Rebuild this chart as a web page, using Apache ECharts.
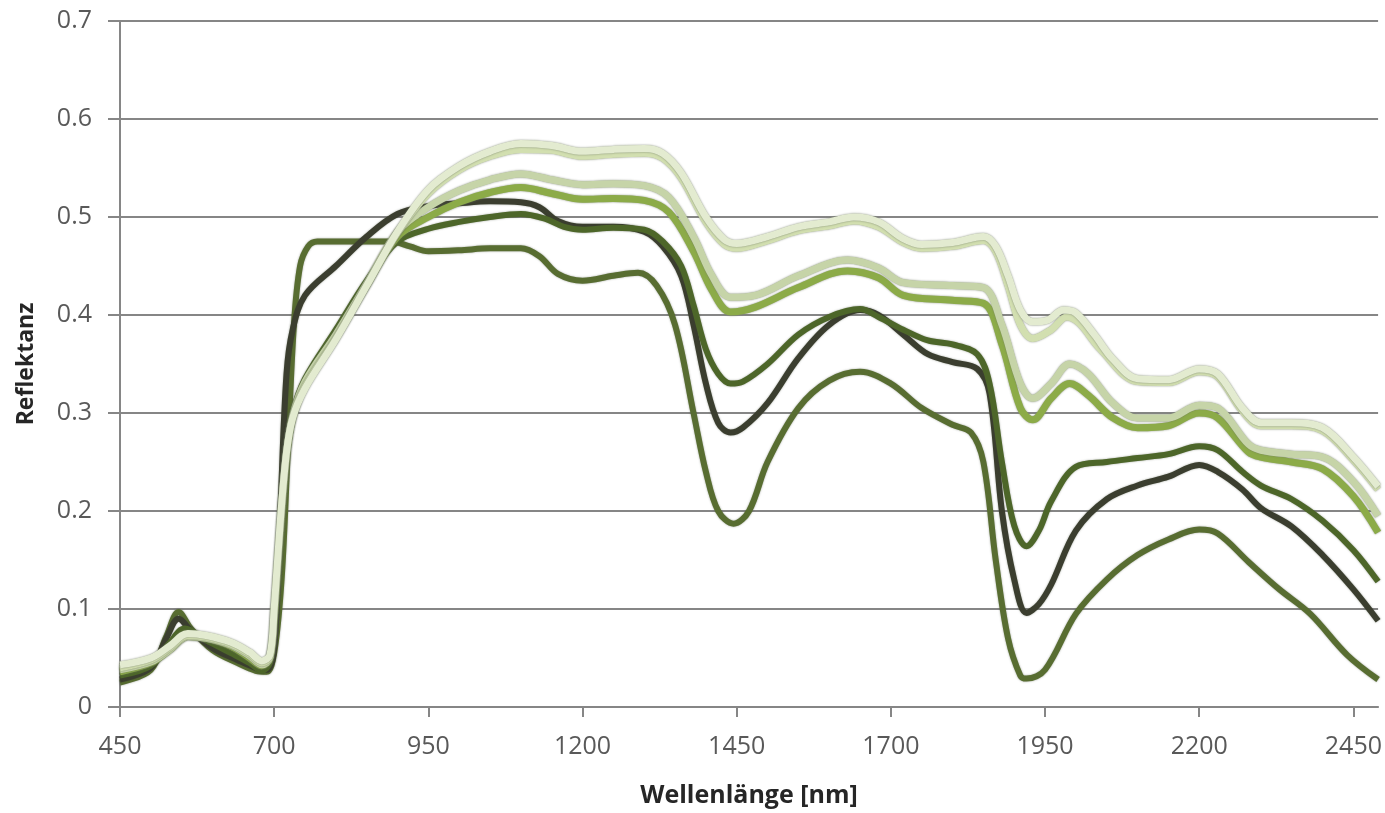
<!DOCTYPE html>
<html>
<head>
<meta charset="utf-8">
<script src="https://cdn.jsdelivr.net/npm/echarts@6/dist/echarts.min.js"></script>
<style>
html,body{margin:0;padding:0;background:#fff;}
#chart{width:1385px;height:813px;}
</style>
</head>
<body>
<div id="chart"></div>
<script>
// Axis settings
const xTicks = [450, 700, 950, 1200, 1450, 1700, 1950, 2200, 2450];
const yTicks = [0, 0.1, 0.2, 0.3, 0.4, 0.5, 0.6, 0.7];

// Series names and colours
const seriesNames = ['D3', 'D2', 'D1', 'M2', 'M1', 'L2', 'L1'];
const seriesColors = ['#586d31', '#3b3e2f', '#4d6629', '#8cab48', '#c6d4a8', '#d2dfb0', '#e3ebd0'];

// Spectra: [wavelength nm, reflectance]
const specD3 = [[450,0.025],[500,0.038],[525,0.072],[545,0.097],[565,0.08],[600,0.058],[640,0.045],[670,0.037],[688,0.036],[700,0.055],[712,0.13],[722,0.26],[732,0.39],[742,0.45],[755,0.47],[770,0.475],[800,0.475],[850,0.475],[890,0.475],[920,0.47],[950,0.465],[1000,0.466],[1050,0.468],[1100,0.468],[1130,0.46],[1160,0.442],[1200,0.435],[1250,0.44],[1290,0.443],[1320,0.43],[1350,0.39],[1380,0.3],[1400,0.24],[1420,0.2],[1445,0.187],[1470,0.2],[1500,0.25],[1550,0.305],[1600,0.333],[1650,0.342],[1700,0.33],[1750,0.305],[1800,0.288],[1830,0.28],[1850,0.25],[1870,0.15],[1890,0.07],[1910,0.032],[1920,0.029],[1950,0.038],[2000,0.095],[2050,0.13],[2100,0.155],[2150,0.171],[2200,0.181],[2230,0.177],[2280,0.148],[2330,0.12],[2380,0.095],[2440,0.053],[2490,0.028]];
const specD2 = [[450,0.028],[500,0.04],[525,0.07],[545,0.09],[565,0.078],[600,0.06],[640,0.048],[670,0.04],[688,0.038],[700,0.06],[710,0.2],[720,0.34],[730,0.385],[750,0.42],[800,0.45],[850,0.48],[900,0.503],[950,0.511],[1000,0.514],[1050,0.516],[1100,0.515],[1130,0.51],[1160,0.496],[1200,0.49],[1250,0.49],[1300,0.485],[1330,0.47],[1360,0.44],[1380,0.39],[1400,0.33],[1420,0.29],[1440,0.28],[1460,0.285],[1500,0.31],[1550,0.356],[1600,0.39],[1650,0.405],[1680,0.4],[1720,0.38],[1760,0.36],[1800,0.352],[1840,0.345],[1860,0.32],[1880,0.2],[1900,0.13],[1920,0.096],[1940,0.105],[1960,0.125],[2000,0.18],[2050,0.212],[2100,0.226],[2150,0.235],[2200,0.247],[2230,0.24],[2270,0.222],[2300,0.203],[2350,0.184],[2400,0.155],[2450,0.12],[2490,0.088]];
const specD1 = [[450,0.032],[500,0.042],[530,0.065],[555,0.08],[590,0.068],[630,0.055],[660,0.045],[680,0.037],[693,0.045],[700,0.08],[710,0.18],[720,0.26],[730,0.3],[750,0.335],[800,0.385],[850,0.435],[900,0.475],[950,0.488],[1000,0.495],[1050,0.5],[1100,0.503],[1140,0.498],[1170,0.49],[1200,0.487],[1250,0.489],[1300,0.487],[1330,0.475],[1360,0.45],[1380,0.41],[1400,0.365],[1420,0.34],[1440,0.33],[1460,0.332],[1500,0.35],[1550,0.38],[1600,0.398],[1650,0.406],[1680,0.398],[1720,0.385],[1760,0.374],[1800,0.37],[1840,0.36],[1860,0.33],[1880,0.25],[1900,0.185],[1920,0.164],[1940,0.18],[1960,0.21],[2000,0.245],[2050,0.25],[2100,0.254],[2150,0.258],[2200,0.266],[2230,0.262],[2270,0.24],[2300,0.226],[2350,0.212],[2400,0.19],[2450,0.16],[2490,0.128]];
const specM2 = [[450,0.036],[500,0.045],[530,0.058],[560,0.072],[590,0.07],[630,0.062],[660,0.05],[680,0.042],[693,0.05],[700,0.09],[710,0.18],[720,0.255],[730,0.295],[750,0.33],[800,0.378],[850,0.43],[900,0.48],[950,0.5],[1000,0.515],[1050,0.525],[1100,0.53],[1150,0.524],[1200,0.518],[1250,0.519],[1300,0.517],[1340,0.505],[1380,0.465],[1410,0.425],[1440,0.403],[1480,0.408],[1550,0.428],[1630,0.445],[1680,0.438],[1720,0.42],[1800,0.415],[1850,0.412],[1880,0.37],[1910,0.305],[1930,0.293],[1960,0.315],[1990,0.33],[2020,0.318],[2060,0.295],[2100,0.285],[2150,0.287],[2200,0.3],[2230,0.295],[2280,0.26],[2300,0.255],[2350,0.25],[2400,0.243],[2450,0.215],[2490,0.178]];
const specM1 = [[450,0.038],[500,0.046],[530,0.058],[560,0.072],[590,0.07],[630,0.063],[660,0.052],[680,0.043],[693,0.05],[700,0.095],[710,0.185],[720,0.258],[730,0.297],[750,0.332],[800,0.38],[850,0.432],[900,0.485],[950,0.51],[1000,0.527],[1050,0.538],[1100,0.544],[1150,0.538],[1200,0.533],[1250,0.534],[1300,0.532],[1340,0.52],[1380,0.48],[1410,0.44],[1440,0.418],[1480,0.42],[1550,0.44],[1630,0.456],[1680,0.448],[1720,0.433],[1800,0.43],[1850,0.428],[1880,0.39],[1910,0.33],[1930,0.315],[1960,0.33],[1990,0.35],[2020,0.34],[2060,0.31],[2100,0.295],[2150,0.295],[2200,0.308],[2230,0.305],[2280,0.268],[2300,0.262],[2350,0.258],[2400,0.255],[2450,0.23],[2490,0.195]];
const specL2 = [[450,0.04],[500,0.048],[530,0.06],[560,0.073],[590,0.071],[630,0.064],[660,0.054],[680,0.045],[693,0.051],[700,0.1],[710,0.19],[720,0.26],[730,0.295],[750,0.327],[800,0.376],[850,0.43],[900,0.484],[950,0.524],[1000,0.548],[1050,0.562],[1100,0.569],[1150,0.568],[1200,0.562],[1250,0.564],[1300,0.565],[1330,0.56],[1360,0.54],[1400,0.495],[1430,0.472],[1450,0.468],[1500,0.476],[1550,0.486],[1600,0.491],[1640,0.496],[1680,0.49],[1720,0.474],[1750,0.468],[1800,0.47],[1850,0.476],[1870,0.465],[1890,0.43],[1910,0.39],[1930,0.376],[1960,0.385],[1985,0.398],[2005,0.392],[2040,0.365],[2100,0.332],[2150,0.331],[2200,0.342],[2230,0.337],[2270,0.302],[2300,0.287],[2350,0.287],[2400,0.282],[2450,0.252],[2490,0.222]];
const specL1 = [[450,0.043],[500,0.05],[530,0.062],[560,0.075],[590,0.073],[630,0.066],[660,0.056],[680,0.047],[693,0.053],[700,0.1],[710,0.19],[720,0.26],[730,0.295],[750,0.325],[800,0.375],[850,0.43],[900,0.485],[950,0.528],[1000,0.552],[1050,0.567],[1100,0.575],[1150,0.573],[1200,0.567],[1250,0.569],[1300,0.57],[1330,0.565],[1360,0.545],[1400,0.5],[1430,0.477],[1450,0.473],[1500,0.48],[1550,0.49],[1600,0.495],[1640,0.5],[1680,0.495],[1720,0.478],[1750,0.472],[1800,0.474],[1850,0.48],[1870,0.47],[1890,0.44],[1910,0.405],[1930,0.393],[1955,0.395],[1980,0.405],[2000,0.402],[2030,0.38],[2060,0.355],[2100,0.335],[2150,0.334],[2200,0.345],[2230,0.34],[2270,0.305],[2300,0.29],[2350,0.29],[2400,0.285],[2450,0.255],[2490,0.225]];

const spectra = [specD3, specD2, specD1, specM2, specM1, specL2, specL1];

const chart = echarts.init(document.getElementById('chart'));
const axisFont = '"Open Sans", sans-serif';

chart.setOption({
  animation: false,
  backgroundColor: '#ffffff',
  grid: { left: 120, right: 3, top: 21, bottom: 101, containLabel: false },
  xAxis: {
    type: 'value',
    min: xTicks[0],
    max: 2490,
    interval: 250,
    name: 'Wellenlänge [nm]',
    nameLocation: 'middle',
    nameGap: 76,
    nameTextStyle: { fontFamily: axisFont, fontWeight: 'bold', fontSize: 25, color: '#262626' },
    axisLine: { show: true, lineStyle: { color: '#868686', width: 2 } },
    axisTick: { show: true, length: 10, lineStyle: { color: '#868686', width: 2 } },
    axisLabel: {
      fontFamily: axisFont, fontSize: 25, color: '#595959', margin: 27,
      showMaxLabel: false,
      formatter: v => xTicks.includes(v) ? String(v) : ''
    },
    splitLine: { show: false }
  },
  yAxis: {
    type: 'value',
    min: 0,
    max: 0.7,
    interval: 0.1,
    name: 'Reflektanz',
    nameLocation: 'middle',
    nameGap: 82,
    nameTextStyle: { fontFamily: axisFont, fontWeight: 'bold', fontSize: 23, color: '#262626' },
    axisLine: { show: true, lineStyle: { color: '#868686', width: 2 } },
    axisTick: { show: true, length: 12, lineStyle: { color: '#868686', width: 2 } },
    axisLabel: {
      fontFamily: axisFont, fontSize: 25, color: '#595959', margin: 28,
      formatter: v => { const t = yTicks.find(k => Math.abs(k - v) < 1e-9); return t === undefined ? '' : (t === 0 ? '0' : t.toFixed(1)); }
    },
    splitLine: { show: true, lineStyle: { color: '#868686', width: 2 } }
  },
  series: spectra.map((d, i) => ({
    name: seriesNames[i],
    type: 'line',
    data: d,
    smooth: 0.35,
    symbol: 'none',
    lineStyle: {
      color: seriesColors[i],
      width: i >= 3 ? 7 : 6,
      shadowColor: i >= 3 ? 'rgba(110,120,100,0.85)' : 'rgba(60,70,50,0.5)',
      shadowBlur: 2
    },
    z: 2 + i
  }))
});
</script>
</body>
</html>
